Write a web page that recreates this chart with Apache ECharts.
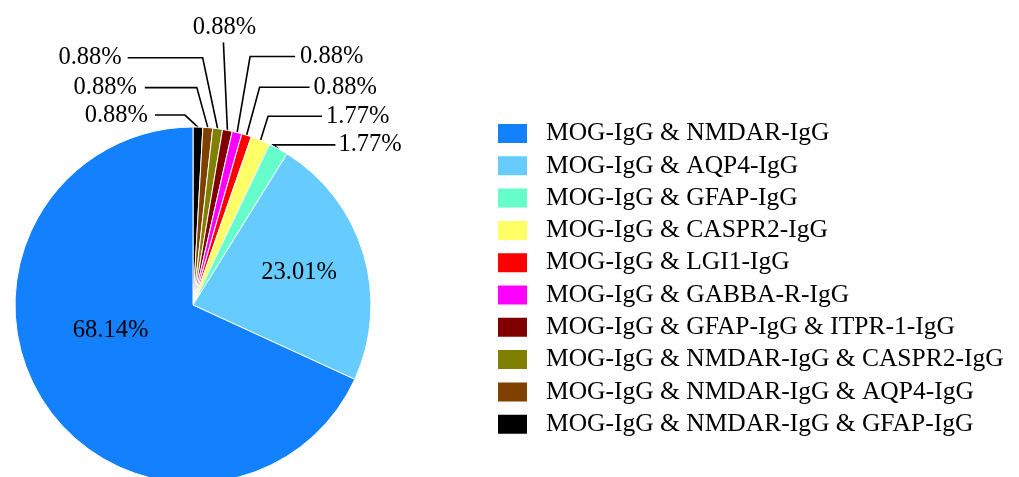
<!DOCTYPE html>
<html>
<head>
<meta charset="utf-8">
<script src="https://cdn.jsdelivr.net/npm/echarts@6/dist/echarts.min.js"></script>
<style>
html,body{margin:0;padding:0;background:#fff;}
#c{width:1019px;height:477px;}
</style>
</head>
<body>
<div id="c"></div>
<script>
// Categories in legend order
var categories = [
  'MOG-IgG & NMDAR-IgG',
  'MOG-IgG & AQP4-IgG',
  'MOG-IgG & GFAP-IgG',
  'MOG-IgG & CASPR2-IgG',
  'MOG-IgG & LGI1-IgG',
  'MOG-IgG & GABBA-R-IgG',
  'MOG-IgG & GFAP-IgG & ITPR-1-IgG',
  'MOG-IgG & NMDAR-IgG & CASPR2-IgG',
  'MOG-IgG & NMDAR-IgG & AQP4-IgG',
  'MOG-IgG & NMDAR-IgG & GFAP-IgG'
];
// Patient counts (68.14%, 23.01%, 1.77%, 1.77%, 0.88% x6 of 113)
var counts = [77, 26, 2, 2, 1, 1, 1, 1, 1, 1];
var colors = ['#1380FE', '#66CCFF', '#66FFCC', '#FFFF66', '#FF0000', '#FF00FF', '#800000', '#808000', '#804000', '#000000'];

var total = counts.reduce(function (a, b) { return a + b; }, 0);

// Label placement (styling): offsets relative to the slice edge point computed by ECharts
var labelCfg = {
  9: { bx: -13, by: -12, len: -30, gap: 7 },
  8: { bx: -11, by: -40, len: -52, gap: 8 },
  7: { bx: -15, by: -71, len: -75, gap: 6 },
  6: { bx: -4, by: -88, len: 0, gap: 15, top: true },
  5: { bx: 13, by: -76, len: 45, gap: 5 },
  4: { bx: 13, by: -48, len: 50, gap: 4 },
  3: { bx: 7.5, by: -24, len: 54, gap: 4 },
  2: { bx: -5, by: -4, len: 62, gap: 3 }
};
var insideCfg = {
  0: { dx: -5, dy: -24 },
  1: { dx: 18, dy: -6 }
};

// Pie drawn clockwise from 12 o'clock in reverse legend order
var order = [];
for (var i = categories.length - 1; i >= 0; i--) order.push(i);
var pieData = order.map(function (idx) {
  var item = {
    name: categories[idx],
    value: counts[idx],
    itemStyle: { color: colors[idx] }
  };
  if (insideCfg[idx]) {
    item.label = { position: 'inside' };
    item.labelLine = { show: false };
  }
  return item;
});

var fontFam = "'Liberation Serif','Times New Roman',serif";
var chart = echarts.init(document.getElementById('c'), null, { renderer: 'canvas' });
chart.setOption({
  backgroundColor: '#fff',
  animation: false,
  legend: {
    orient: 'vertical',
    left: 496,
    top: 118.5,
    padding: 0,
    itemWidth: 31,
    itemHeight: 21,
    itemGap: 2.3,
    icon: 'rect',
    data: categories,
    selectedMode: false,
    textStyle: {
      fontFamily: fontFam,
      fontSize: 25.5,
      color: '#000',
      lineHeight: 27,
      padding: [3, 0, 0, 13]
    }
  },
  series: [{
    type: 'pie',
    center: [193, 305],
    radius: [0, 178],
    startAngle: 90,
    clockwise: true,
    avoidLabelOverlap: false,
    itemStyle: { borderColor: '#fff', borderWidth: 1 },
    label: {
      show: true,
      position: 'outside',
      fontFamily: fontFam,
      fontSize: 24.5,
      color: '#000',
      formatter: function (p) {
        return (p.value / total * 100).toFixed(2) + '%';
      }
    },
    labelLine: {
      show: true,
      length: 20,
      length2: 20,
      lineStyle: { color: '#000', width: 1.6 }
    },
    emphasis: { disabled: true },
    labelLayout: function (params) {
      var idx = order[params.dataIndex];
      if (insideCfg[idx]) {
        return { dx: insideCfg[idx].dx, dy: insideCfg[idx].dy };
      }
      var cfg = labelCfg[idx];
      if (!cfg || !params.labelLinePoints) return {};
      var p0 = params.labelLinePoints[0];
      var bend = [p0[0] + cfg.bx, p0[1] + cfg.by];
      var end = [bend[0] + cfg.len, bend[1]];
      if (cfg.top) {
        return {
          x: bend[0] + 1,
          y: bend[1] - cfg.gap,
          align: 'center',
          verticalAlign: 'middle',
          labelLinePoints: [p0, bend, end]
        };
      }
      var left = cfg.len < 0;
      return {
        x: end[0] + (left ? -cfg.gap : cfg.gap),
        y: end[1],
        align: left ? 'right' : 'left',
        verticalAlign: 'middle',
        labelLinePoints: [p0, bend, end]
      };
    },
    data: pieData
  }]
});
</script>
</body>
</html>
